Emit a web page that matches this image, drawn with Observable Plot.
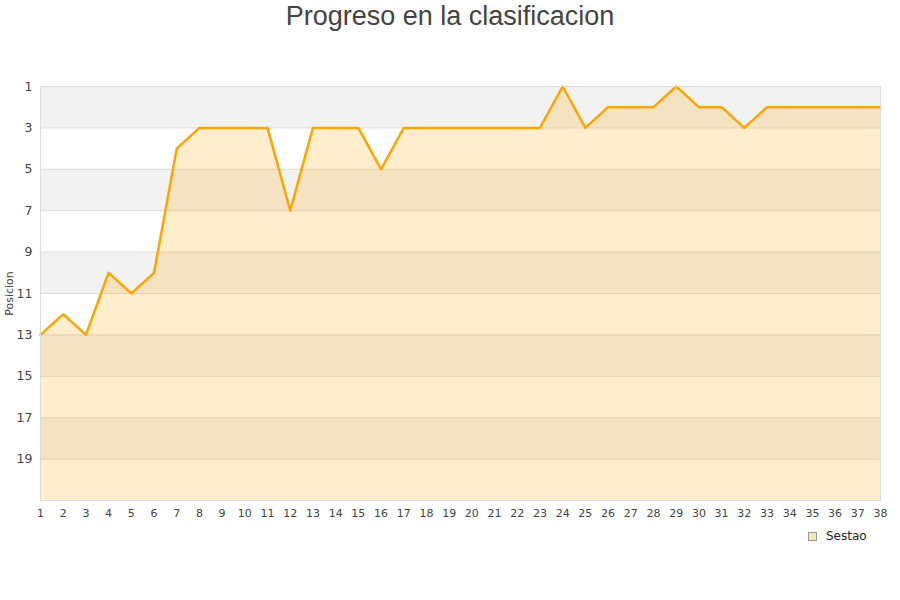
<!DOCTYPE html>
<html><head><meta charset="utf-8">
<script src="https://cdn.jsdelivr.net/npm/d3@7"></script>
<script src="https://cdn.jsdelivr.net/npm/@observablehq/plot@0.6"></script>
<style>
body{margin:0;background:#fff;font-family:"DejaVu Sans",Verdana,sans-serif;}
#wrap{position:relative;width:900px;height:600px;}
#title{height:36px;text-align:center;font-family:"Liberation Sans",Arial,sans-serif;font-size:27px;color:#444;line-height:32px;}
#chart svg{display:block;}
#legend{position:absolute;left:808px;top:529px;font-size:12px;color:#222;display:flex;align-items:center;gap:9px;}
#legend span.sw{display:inline-block;width:7px;height:7px;background:#fde3b8;border:1px solid #999;}
</style></head>
<body><div id="wrap"><div id="title">Progreso en la clasificacion</div><div id="chart"></div>
<div id="legend"><span class="sw"></span><span>Sestao</span></div></div>
<script>
const jornadas = d3.range(1, 39);
const posiciones = [13,12,13,10,11,10,4,3,3,3,3,7,3,3,3,5,3,3,3,3,3,3,3,1,3,2,2,2,1,2,2,3,2,2,2,2,2,2];
const yTicks = [1,3,5,7,9,11,13,15,17,19];
const bandStarts = [1,5,9,13,17];
const equipo = "Sestao";

const data = jornadas.map((j, i) => ({j, p: posiciones[i]}));
const bands = bandStarts.map(s => ({a: s, b: s + 2}));

const chart = Plot.plot({
  width: 900, height: 564,
  marginLeft: 40, marginRight: 20, marginTop: 50, marginBottom: 100,
  style: {fontFamily: "DejaVu Sans, Verdana, sans-serif", color: "#444"},
  x: {domain: [1, 38], ticks: jornadas, tickFormat: d => d, tickSize: 0, tickPadding: 9, label: null},
  y: {domain: [1, 21], reverse: true, ticks: yTicks, tickSize: 0, tickPadding: 8, label: "Posicion", labelAnchor: "center", labelOffset: 35},
  marks: [
    Plot.rect(bands, {x1: 1, x2: 38, y1: "a", y2: "b", fill: "#f2f2f2"}),
    Plot.ruleY(yTicks, {stroke: "#dcdcdc", strokeWidth: 1}),
    Plot.areaY(data, {x: "j", y1: 21, y2: "p", fill: "#ffa500", fillOpacity: 0.2}),
    Plot.line(data, {x: "j", y: "p", stroke: "#ffa500", strokeWidth: 2.5}),
    Plot.frame({stroke: "#dcdcdc"})
  ]
});
chart.querySelectorAll("g[aria-label='x-axis tick label']").forEach(e => e.setAttribute("font-size", "11"));
chart.querySelectorAll("g[aria-label='y-axis tick label']").forEach(e => e.setAttribute("font-size", "12.5"));
chart.querySelectorAll("g[aria-label='y-axis label']").forEach(e => {
  e.setAttribute("font-size", "11");
  e.querySelectorAll("text").forEach(t => { t.textContent = t.textContent.replace(/[↑↓←→]\s*/g, "").replace(/\s*[↑↓←→]/g, ""); });
});
document.getElementById("chart").appendChild(chart);
</script></body></html>
